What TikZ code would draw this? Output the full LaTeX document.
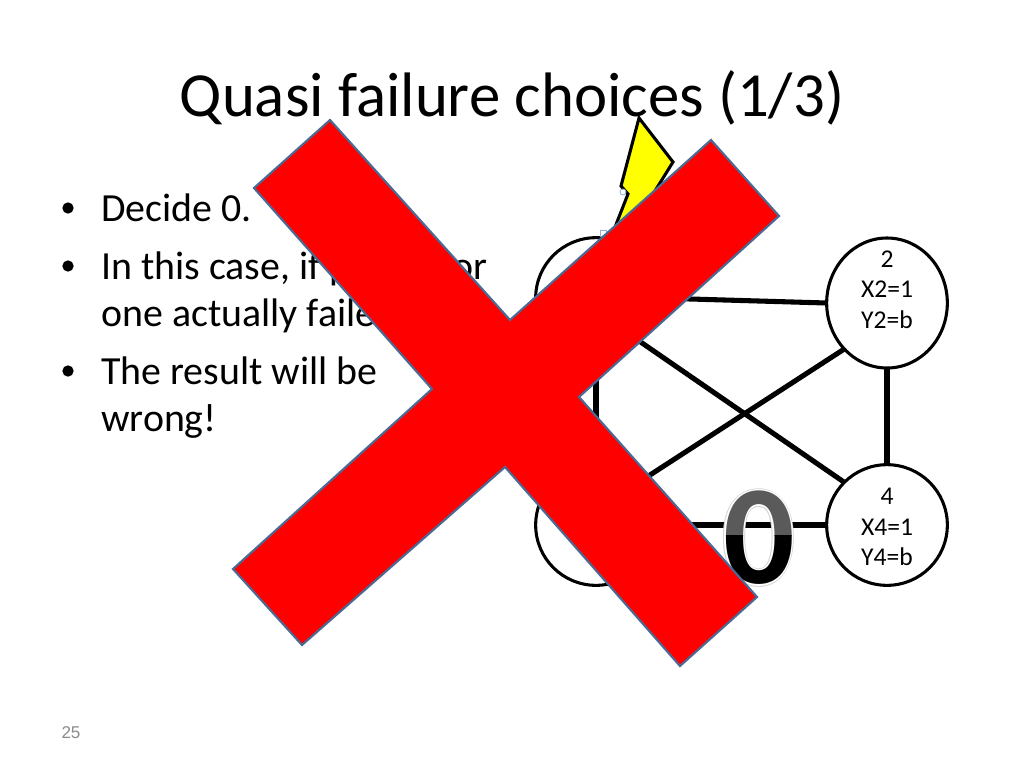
\documentclass[tikz,border=0pt]{standalone}
\usepackage{fontspec}
\setmainfont{Carlito}
\newfontfamily\numfont{Liberation Sans}
\usetikzlibrary{shapes.geometric}
\definecolor{crossblue}{HTML}{4A6A94}
\definecolor{handleblue}{HTML}{8FAFD0}
\definecolor{numgray}{HTML}{8B8B8B}
\definecolor{zerogray}{HTML}{5A5A5A}
\definecolor{boltyellow}{RGB}{255,255,0}
\tikzset{
  vertex/.style={draw,circle,line width=2.3pt,fill=white,inner sep=0pt,outer sep=0pt,
    minimum size=90.5pt},
  tallvertex/.style={vertex,ellipse,minimum width=90.5pt,minimum height=97.5pt},
  vertextext/.style={align=center,inner sep=0pt,font=\fontsize{19.2}{23}\selectfont},
  link/.style={line width=3.8pt},
  bodyline/.style={anchor=base west,inner sep=0pt,font=\fontsize{29.9}{36}\selectfont},
  bigzero/.style={inner sep=0pt,font=\fontsize{106}{120}\selectfont\bfseries},
}
\begin{document}
\begin{tikzpicture}[x=0.75pt,y=-0.75pt]
    \useasboundingbox (0,0) rectangle (1024,768);
    % heading and bullets
    \node[inner sep=0pt,font=\fontsize{47.1}{56}\selectfont] (title) at (512,98) {Quasi failure choices (1\kern0pt/\kern0pt 3)};
    \node[bodyline] (decide) at (101,221) {Decide 0.};
    \node[bodyline] (case) at (101,279) {In this case, if processor};
    \node[bodyline] (failed) at (101,326) {one actually failed};
    \node[bodyline] (result) at (101,384) {The result will be};
    \node[bodyline] (wrong) at (101,431) {wrong!};
    \foreach \name/\ypos in {b1/208,b2/266,b3/371}
      \node[circle,fill=black,inner sep=0pt,minimum size=8.5pt] (\name) at (68,\ypos) {};
    \node[inner sep=0pt,text=numgray,font=\numfont\fontsize{12.8}{15}\selectfont] (page) at (71,733) {25};
    % the graph
    \node[vertex] (n1) at (596,298) {};
    \node[tallvertex] (n2) at (887,303) {};
    \node[vertex] (n3) at (596,525) {};
    \node[vertex] (n4) at (887,525) {};
    \node[vertextext] (n2text) at (887,289.5) {2\\X2=1\\Y2=b};
    \node[vertextext] (n4text) at (887,527) {4\\X4=1\\Y4=b};
    \draw[link] (n1.east) -- (n2.west);
    \draw[link] (n1.south) -- (n3.north);
    \draw[link] (n1.south east) -- (n4.north west);
    \draw[link] (n2.south west) -- (n3.north east);
    \draw[link] (n2.south) -- (n4.north);
    \draw[link] (n3.east) -- (n4.west);
    % bolt
    \draw[line width=2.3pt,fill=boltyellow,line join=miter] (639,118) -- (673,162) -- (640,215)
      -- (612,236) -- (617,222) -- (628,194) -- (621,186) -- cycle;
    \draw[handleblue,fill=white,line width=0.6pt] (623,192) circle (3);
    \draw[handleblue,fill=white,line width=0.6pt] (600,230) rectangle (606,236);
    % the decided value
    \foreach \dx/\dy in {-2.5/0,2.5/0,0/-2.5,0/2.5,-1.8/-1.8,1.8/-1.8,-1.8/1.8,1.8/1.8}
      \node[bigzero,text=black!18] at (759+\dx,538+\dy) {0};
    \foreach \dx/\dy in {-1.5/0,1.5/0,0/-1.5,0/1.5,-1/-1,1/-1,-1/1,1/1}
      \node[bigzero,text=white] at (759+\dx,538+\dy) {0};
    \begin{scope}
      \clip (700,470) rectangle (820,535);
      \node[bigzero,text=zerogray] (zerotop) at (759,538) {0};
    \end{scope}
    \begin{scope}
      \clip (700,535) rectangle (820,610);
      \node[bigzero,text=black] (zerobottom) at (759,538) {0};
    \end{scope}
    % the cross
    \draw[crossblue,fill=red,line width=1.6pt,line join=miter] (330,120) -- (510,320) -- (711,140)
      -- (779,216) -- (579,397) -- (757,597) -- (680,666) -- (505,467)
      -- (302,645) -- (233,569) -- (432,389) -- (254,188) -- cycle;
\end{tikzpicture}
\end{document}
